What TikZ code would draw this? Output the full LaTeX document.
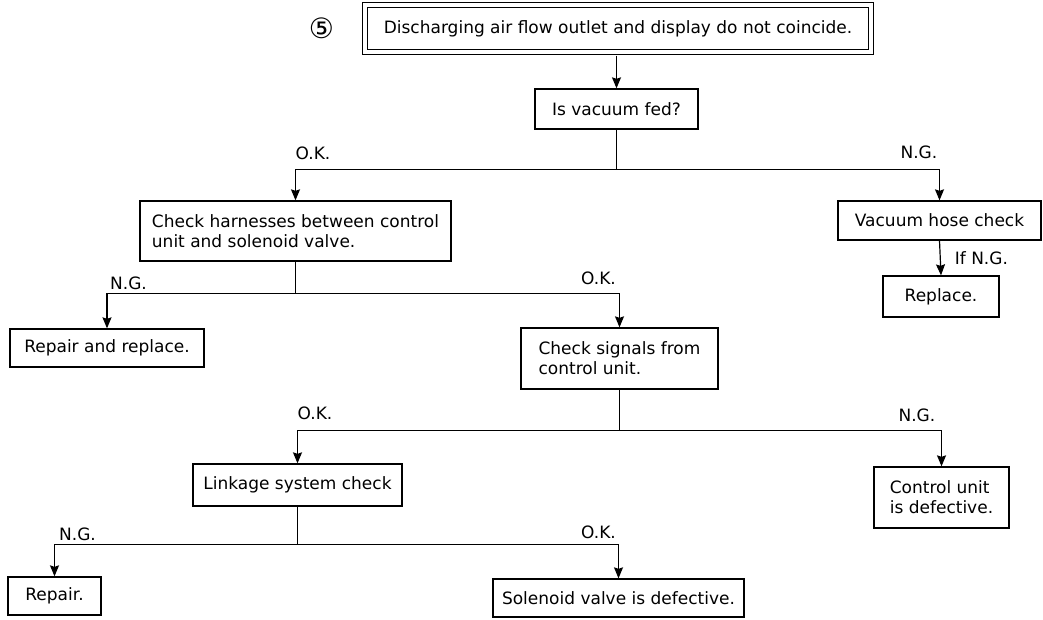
\documentclass[tikz,border=0pt]{standalone}
\usepackage{fontspec}
\setmainfont{DejaVu Sans}
\newfontfamily\circfont{DejaVu Sans}
\usepackage{tikz}
\usetikzlibrary{arrows.meta,positioning}

\begin{document}
\begin{tikzpicture}[
    x=1pt, y=-1pt,
    box/.style 2 args={draw, line width=1.3pt, minimum width=#1, minimum height=#2, inner sep=0pt, align=center, font=\fontsize{17}{20}\selectfont},
    lbl/.style={inner sep=0pt, font=\fontsize{17}{20}\selectfont},
    line/.style={line width=1.2pt},
    arr/.style={line, -{Stealth[length=11pt, width=9pt, inset=1.5pt]}}
]
\useasboundingbox (0,0) rectangle (1043,620);

% boxes
\node[inner sep=0pt, font=\fontsize{28}{28}\selectfont\circfont] (num) at (321.5,28) {⑤};
\node[box={506pt}{47pt}, double, double distance=3.4pt] (title) at (618,28.5) {Discharging air flow outlet and display do not coincide.};
\node[box={163pt}{40pt}] (vac) at (616.5,109) {Is vacuum fed?};
\node[box={311pt}{60pt}, align=left] (harn) at (295.5,231) {Check harnesses between control\\unit and solenoid valve.};
\node[box={203pt}{39pt}] (hose) at (939.5,220.5) {Vacuum hose check};
\node[box={116pt}{41pt}] (repl) at (941,296.5) {Replace.};
\node[box={194pt}{38pt}] (repair2) at (107,348) {Repair and replace.};
\node[box={197pt}{61pt}, align=left] (sig) at (619.5,358.5) {Check signals from\\control unit.};
\node[box={135pt}{61pt}, align=left] (cu) at (941.5,497.5) {Control unit\\is defective.};
\node[box={209pt}{42pt}] (link) at (297.5,485) {Linkage system check};
\node[box={93pt}{38pt}] (repair1) at (54.5,596) {Repair.};
\node[box={251pt}{38pt}] (sol) at (618.5,598) {Solenoid valve is defective.};

% split points
\coordinate[below=39.5pt of vac.south] (s1);
\coordinate[below=32pt of harn.south] (s2);
\coordinate[below=40.5pt of sig.south] (s3);
\coordinate[below=38pt of link.south] (s4);

% connectors
\draw[arr, shorten <=3pt] (vac.north |- title.south) -- (vac.north);
\draw[line] (vac.south) -- (s1);
\draw[arr] (s1) -| (harn.north);
\draw[arr] (s1) -| (hose.north);
\draw[arr] (hose.south) -- (repl.north) node[lbl, midway, right=14pt] (ifng) {If N.G.};
\draw[line] (harn.south) -- (s2);
\draw[arr] (s2) -| (repair2.north);
\draw[arr] (s2) -| (sig.north);
\draw[line] (sig.south) -- (s3);
\draw[arr] (s3) -| (link.north);
\draw[arr] (s3) -| (cu.north);
\draw[line] (link.south) -- (s4);
\draw[arr] (s4) -| (repair1.north);
\draw[arr] (s4) -| (sol.north);

% branch labels
\coordinate (c1) at (s1 -| harn.north);
\coordinate (c2) at (s1 -| hose.north);
\coordinate (c3) at (s2 -| repair2.north);
\coordinate (c4) at (s2 -| sig.north);
\coordinate (c5) at (s3 -| link.north);
\coordinate (c6) at (s3 -| cu.north);
\coordinate (c7) at (s4 -| repair1.north);
\coordinate (c8) at (s4 -| sol.north);
\node[lbl, above right=9.5pt and 0pt of c1] (ok1) {O.K.};
\node[lbl, above left=10.5pt and 2pt of c2] (ng1) {N.G.};
\node[lbl, above right=4pt and 3pt of c3] (ng2) {N.G.};
\node[lbl, above left=9pt and 3.5pt of c4] (ok2) {O.K.};
\node[lbl, above right=10.5pt and 0pt of c5] (ok3) {O.K.};
\node[lbl, above left=8.5pt and 6pt of c6] (ng3) {N.G.};
\node[lbl, above right=4pt and 4.5pt of c7] (ng4) {N.G.};
\node[lbl, above left=6pt and 2.5pt of c8] (ok4) {O.K.};
\end{tikzpicture}
\end{document}
